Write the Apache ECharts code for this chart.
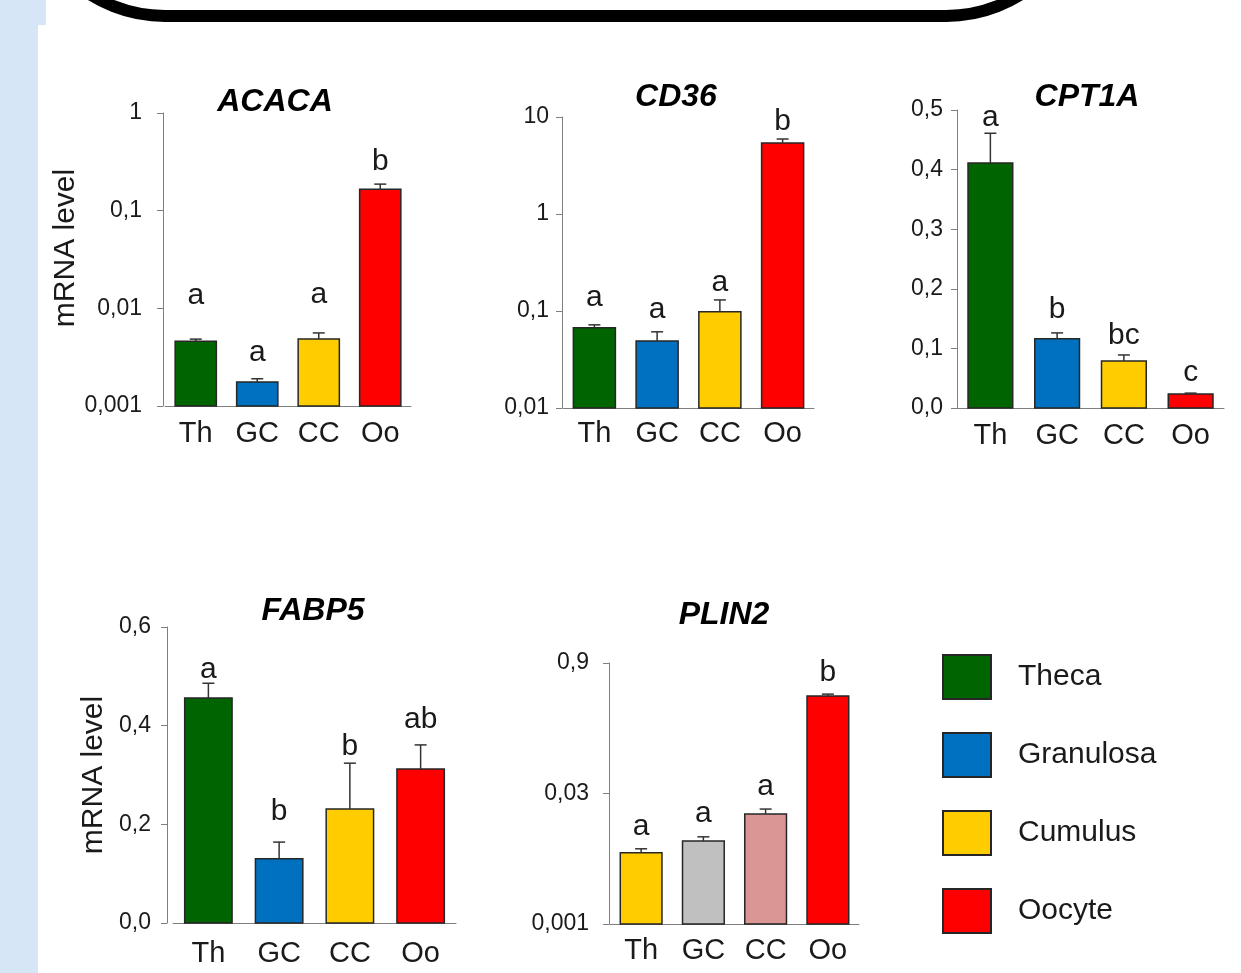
<!DOCTYPE html>
<html>
<head>
<meta charset="utf-8">
<script src="https://cdn.jsdelivr.net/npm/echarts@6/dist/echarts.min.js"></script>
<style>
html,body{margin:0;padding:0;background:#ffffff;}
#c{width:1241px;height:973px;}
</style>
</head>
<body>
<div id="c"></div>
<script>
// ---------- data ----------
const categories = ['Th', 'GC', 'CC', 'Oo'];
const cellTypes = ['Theca', 'Granulosa', 'Cumulus', 'Oocyte'];

const acacaMean = [0.0046, 0.00176, 0.00485, 0.166];
const acacaSem = [0.00024, 0.00014, 0.00075, 0.021];
const acacaLetters = ['a', 'a', 'a', 'b'];

const cd36Mean = [0.067, 0.049, 0.098, 5.4];
const cd36Sem = [0.005, 0.012, 0.032, 0.53];
const cd36Letters = ['a', 'a', 'a', 'b'];

const cpt1aMean = [0.411, 0.116, 0.079, 0.0235];
const cpt1aSem = [0.05, 0.01, 0.01, 0.0015];
const cpt1aLetters = ['a', 'b', 'bc', 'c'];

const fabp5Mean = [0.456, 0.13, 0.231, 0.312];
const fabp5Sem = [0.03, 0.034, 0.093, 0.049];
const fabp5Letters = ['a', 'b', 'b', 'ab'];

const plin2Mean = [0.0064, 0.0087, 0.0176, 0.38];
const plin2Sem = [0.0007, 0.001, 0.0024, 0.02];
const plin2Letters = ['a', 'a', 'a', 'b'];
const plin2Ticks = [0.001, 0.03, 0.9];

// ---------- styles ----------
const FONT = "'Liberation Sans', Arial, Helvetica, sans-serif";
const TXT = '#1a1a1a';
const AXIS = '#7f7f7f';
const cellColors = ['#006400', '#0070c0', '#ffcc00', '#ff0000'];
const plin2Colors = ['#ffcc00', '#c0c0c0', '#d99694', '#ff0000'];
const BAR_RATIO = 0.67;

const fmtNum = v => String(Number(Number(v).toPrecision(6))).replace('.', ',');
const fmt1 = v => Number(v).toFixed(1).replace('.', ',');

const panels = [
  { title: 'ACACA', tx: 275, ty: 102, mean: acacaMean, sem: acacaSem, letters: acacaLetters, colors: cellColors,
    grid: { left: 165, top: 113, width: 246, height: 293 }, yOffset: 2, yMargin: 21, xMargin: 13,
    y: { type: 'log', logBase: 10, min: 0.001, max: 1 }, fmt: fmtNum,
    name: true, nameGap: 67, namePad: [0, 0, 0, 23], gaps: [43, 26, 38, 22] },
  { title: 'CD36', tx: 676, ty: 97, mean: cd36Mean, sem: cd36Sem, letters: cd36Letters, colors: cellColors,
    grid: { left: 563, top: 117, width: 251, height: 291 }, yOffset: 1, yMargin: 13, xMargin: 11,
    y: { type: 'log', logBase: 10, min: 0.01, max: 10 }, fmt: fmtNum, gaps: [27, 22, 17, 17] },
  { title: 'CPT1A', tx: 1087, ty: 97, mean: cpt1aMean, sem: cpt1aSem, letters: cpt1aLetters, colors: cellColors,
    grid: { left: 957, top: 110, width: 267, height: 298 }, yOffset: 0, yMargin: 14, xMargin: 13,
    y: { type: 'value', min: 0, max: 0.5, interval: 0.1 }, fmt: fmt1, gaps: [16, 23, 19, 20] },
  { title: 'FABP5', tx: 313, ty: 611, mean: fabp5Mean, sem: fabp5Sem, letters: fabp5Letters, colors: cellColors,
    grid: { left: 173, top: 627, width: 283, height: 296 }, yOffset: 6, yMargin: 16, xMargin: 16,
    y: { type: 'value', min: 0, max: 0.6, interval: 0.2 }, fmt: fmt1,
    name: true, nameGap: 58, namePad: [0, 0, 0, 0], gaps: [14, 30, 16, 25] },
  { title: 'PLIN2', tx: 724, ty: 615, mean: plin2Mean, sem: plin2Sem, letters: plin2Letters, colors: plin2Colors,
    grid: { left: 610, top: 663, width: 249, height: 261 }, yOffset: 1, yMargin: 20, xMargin: 12,
    y: { type: 'log', logBase: 30, min: 0.001, max: 0.9 }, fmt: fmtNum, custom: plin2Ticks, gaps: [22, 23, 22, 21] }
];

function barItem(p) {
  return function (params, api) {
    const i = api.value(0), v = api.value(1);
    const top = api.coord([i, v]);
    const base = api.coord([i, p.y.min]);
    const w = api.size([1, 0])[0] * BAR_RATIO;
    return {
      type: 'rect',
      shape: { x: top[0] - w / 2, y: top[1], width: w, height: base[1] - top[1] },
      style: { fill: p.colors[i], stroke: '#262626', lineWidth: 1.5 }
    };
  };
}

function errItem(p) {
  return function (params, api) {
    const i = api.value(0), v = api.value(1), s = api.value(2);
    const a = api.coord([i, v]);
    const b = api.coord([i, v + s]);
    return {
      type: 'group',
      children: [
        { type: 'line', shape: { x1: a[0], y1: a[1], x2: b[0], y2: b[1] }, style: { stroke: '#333', lineWidth: 1.5 } },
        { type: 'line', shape: { x1: b[0] - 6, y1: b[1], x2: b[0] + 6, y2: b[1] }, style: { stroke: '#333', lineWidth: 1.5 } },
        { type: 'text', x: b[0], y: b[1] - p.gaps[i],
          style: { text: p.letters[i], fontSize: 30, fontFamily: FONT, fill: TXT, align: 'center', verticalAlign: 'middle' } }
      ]
    };
  };
}

const grids = [], xAxes = [], yAxes = [], series = [], titles = [];
panels.forEach((p, k) => {
  grids.push(Object.assign({ containLabel: false }, p.grid));
  xAxes.push({
    type: 'category', gridIndex: k, data: categories,
    axisLine: { lineStyle: { color: AXIS, width: 1 } },
    axisTick: { show: false },
    axisLabel: { interval: 0, fontSize: 29, color: TXT, fontFamily: FONT, margin: p.xMargin }
  });
  const ya = Object.assign({
    gridIndex: k, offset: p.yOffset,
    axisLine: { show: true, lineStyle: { color: AXIS, width: 1 } },
    axisTick: { show: true, length: 6, lineStyle: { color: AXIS, width: 1 } },
    splitLine: { show: false },
    axisLabel: { fontSize: 23, color: TXT, fontFamily: FONT, margin: p.yMargin, formatter: p.fmt }
  }, p.y);
  if (p.custom) {
    ya.axisLabel.customValues = p.custom;
    ya.axisTick.customValues = p.custom;
  }
  if (p.name) {
    ya.name = 'mRNA level';
    ya.nameLocation = 'middle';
    ya.nameRotate = 90;
    ya.nameGap = p.nameGap;
    ya.nameTextStyle = { fontSize: 30, color: TXT, fontFamily: FONT, padding: p.namePad };
  }
  yAxes.push(ya);
  const rows = p.mean.map((m, i) => [i, m, p.sem[i]]);
  series.push({
    name: p.title + ' mean', type: 'custom', xAxisIndex: k, yAxisIndex: k,
    renderItem: barItem(p), encode: { x: 0, y: 1 }, data: rows, z: 2
  });
  series.push({
    name: p.title + ' SEM', type: 'custom', xAxisIndex: k, yAxisIndex: k,
    renderItem: errItem(p), encode: { x: 0, y: 1 }, data: rows, z: 3
  });
  titles.push({
    text: p.title, left: p.tx, top: p.ty, padding: 0,
    textAlign: 'center', textVerticalAlign: 'middle',
    textStyle: { fontSize: 32, fontWeight: 'bold', fontStyle: 'italic', color: '#000', fontFamily: FONT }
  });
});

// legend entries (cell types)
cellTypes.forEach((n, i) => {
  series.push({
    name: n, type: 'bar', xAxisIndex: 0, yAxisIndex: 0, data: [],
    itemStyle: { color: cellColors[i], borderColor: '#262626', borderWidth: 1.5 }
  });
});

const chart = echarts.init(document.getElementById('c'), null, { renderer: 'canvas' });
chart.setOption({
  backgroundColor: '#ffffff',
  animation: false,
  textStyle: { fontFamily: FONT },
  title: titles,
  grid: grids,
  xAxis: xAxes,
  yAxis: yAxes,
  legend: {
    data: cellTypes, orient: 'vertical', left: 942, top: 654, padding: 0,
    itemWidth: 48, itemHeight: 44, itemGap: 32, icon: 'rect', selectedMode: false,
    textStyle: { fontSize: 30, color: TXT, fontFamily: FONT, padding: [0, 0, 0, 22] }
  },
  graphic: [
    { type: 'rect', z: -10, shape: { x: 0, y: 0, width: 38, height: 973 }, style: { fill: '#d6e6f6' } },
    { type: 'rect', z: -10, shape: { x: 0, y: 0, width: 46, height: 25 }, style: { fill: '#d6e6f6' } },
    { type: 'rect', z: -5, shape: { x: 25, y: -300, width: 1061, height: 316, r: 140 },
      style: { fill: null, stroke: '#000', lineWidth: 12 } }
  ],
  series: series
});
</script>
</body>
</html>
